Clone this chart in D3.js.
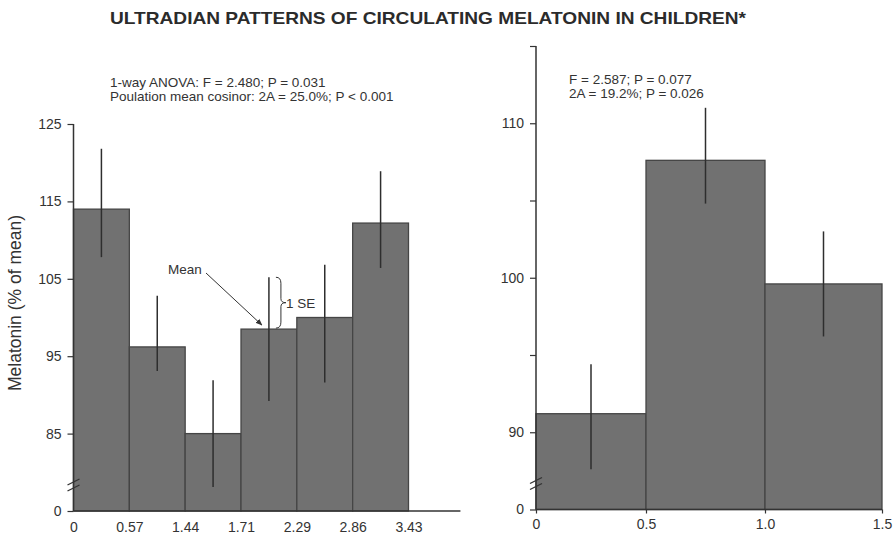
<!DOCTYPE html>
<html>
<head>
<meta charset="utf-8">
<script src="https://cdn.jsdelivr.net/npm/d3@7"></script>
<style>
  html, body { margin: 0; padding: 0; background: #fff; }
  svg { display: block; font-family: "Liberation Sans", Arial, sans-serif; }
</style>
</head>
<body>
<svg id="chart" width="896" height="535"></svg>
<script>
// Left panel: six consecutive intervals
const leftLabels = ["0", "0.57", "1.44", "1.71", "2.29", "2.86", "3.43"];
const leftMean = [114.0, 96.2, 85.0, 98.5, 100.0, 112.2];
const leftHigh = [121.8, 102.8, 91.9, 105.2, 106.8, 118.9];
const leftLow  = [107.8, 93.1, 78.1, 89.2, 91.6, 106.4];
const leftTicks = [75, 85, 95, 105, 115, 125];
const leftTickLabels = ["0", "85", "95", "105", "115", "125"];

// Right panel: three half-unit intervals
const rightEdges = [0, 0.5, 1.0, 1.5];
const rightMean = [91.2, 107.6, 99.6];
const rightHigh = [94.4, 111.0, 103.0];
const rightLow  = [87.6, 104.8, 96.2];
const rightTicks = [85, 90, 95, 100, 105, 110, 115];
const rightTickLabels = ["0", "90", "", "100", "", "110", ""];
const rightXTicks = [0, 0.5, 1.0, 1.5];
const rightXLabels = ["0", "0.5", "1.0", "1.5"];

const titleText = "ULTRADIAN PATTERNS OF CIRCULATING MELATONIN IN CHILDREN*";
const leftNotes = ["1-way ANOVA: F = 2.480; P = 0.031", "Poulation mean cosinor: 2A = 25.0%; P < 0.001"];
const rightNotes = ["F = 2.587; P = 0.077", "2A = 19.2%; P = 0.026"];

const svg = d3.select("#chart");
const ink = "#333";
const barFill = "#717171";
const barStroke = "#454545";
const labelSize = 13.5;
const tickSize = 14;

// Title
svg.append("text")
  .attr("x", 428).attr("y", 24)
  .attr("text-anchor", "middle")
  .attr("font-size", 16.5).attr("font-weight", "bold")
  .attr("fill", "#2b2b2b")
  .attr("textLength", 636).attr("lengthAdjust", "spacingAndGlyphs")
  .text(titleText);

// ---------- Left panel ----------
const xL = d3.scaleLinear().domain([0, 6]).range([73.5, 408.5]);
const yL = d3.scaleLinear().domain([75, 125]).range([511, 124]);
const gL = svg.append("g");

gL.selectAll("rect.bar").data(leftMean).join("rect")
  .attr("class", "bar")
  .attr("x", (d, i) => xL(i))
  .attr("y", d => yL(d))
  .attr("width", (d, i) => xL(i + 1) - xL(i))
  .attr("height", d => yL(75) - yL(d))
  .attr("fill", barFill).attr("stroke", barStroke).attr("stroke-width", 1.3);

gL.selectAll("line.err").data(leftMean).join("line")
  .attr("class", "err")
  .attr("x1", (d, i) => xL(i + 0.5)).attr("x2", (d, i) => xL(i + 0.5))
  .attr("y1", (d, i) => yL(leftHigh[i])).attr("y2", (d, i) => yL(leftLow[i]))
  .attr("stroke", "#2e2e2e").attr("stroke-width", 1.5);

// y axis
const yAxisL = d3.axisLeft(yL).tickValues(leftTicks)
  .tickFormat((d, i) => leftTickLabels[i]).tickSize(6).tickPadding(6);
const gyL = gL.append("g").attr("transform", `translate(${xL(0)},0)`).call(yAxisL);
gyL.select(".domain").attr("d", `M0,${yL(125)}V${yL(75)}`);

// x axis line and labels
const xAxisL = d3.axisBottom(xL).tickValues(d3.range(7))
  .tickFormat((d, i) => leftLabels[i]).tickSize(0).tickPadding(11);
const gxL = gL.append("g").attr("transform", `translate(0,${yL(75)})`).call(xAxisL);
gxL.select(".domain").attr("d", `M${xL(0)},0H${xL(6.93)}`);

// axis break marks
[0, 6].forEach(off => {
  gL.append("line")
    .attr("x1", xL(0) - 6).attr("y1", yL(75) - 20 - off)
    .attr("x2", xL(0) + 6).attr("y2", yL(75) - 26 - off)
    .attr("stroke", ink).attr("stroke-width", 1.3);
});

// y axis title
svg.append("text")
  .attr("transform", "translate(21,303) rotate(-90)")
  .attr("text-anchor", "middle")
  .attr("font-size", 17.5).attr("fill", ink)
  .text("Melatonin (% of mean)");

// statistics notes
leftNotes.forEach((t, i) => {
  svg.append("text").attr("x", 110).attr("y", 87 + i * 13.5)
    .attr("font-size", labelSize).attr("fill", ink).text(t);
});

// Mean / 1 SE annotation on the fourth bar
const iNote = 3;
const noteX = xL(iNote + 0.5);
svg.append("text").attr("x", 168).attr("y", 274)
  .attr("font-size", labelSize).attr("fill", ink).text("Mean");
svg.append("defs").append("marker")
  .attr("id", "arrow").attr("viewBox", "0 0 10 10")
  .attr("refX", 9).attr("refY", 5)
  .attr("markerWidth", 7).attr("markerHeight", 7)
  .attr("orient", "auto")
  .append("path").attr("d", "M0,1L10,5L0,9Z").attr("fill", ink);
svg.append("line")
  .attr("x1", 206).attr("y1", 273)
  .attr("x2", noteX - 7).attr("y2", yL(leftMean[iNote]) - 4)
  .attr("stroke", ink).attr("stroke-width", 1)
  .attr("marker-end", "url(#arrow)");

// curly brace spanning mean to mean + SE
const bTop = yL(leftHigh[iNote]);
const bBot = yL(leftMean[iNote]) - 1;
const bMid = (bTop + bBot) / 2;
const bx = noteX + 7;
svg.append("path")
  .attr("d", `M${bx},${bTop} Q${bx + 5},${bTop} ${bx + 5},${bTop + 6}
              L${bx + 5},${bMid - 4} Q${bx + 5},${bMid} ${bx + 10},${bMid}
              Q${bx + 5},${bMid} ${bx + 5},${bMid + 4}
              L${bx + 5},${bBot - 6} Q${bx + 5},${bBot} ${bx},${bBot}`)
  .attr("fill", "none").attr("stroke", ink).attr("stroke-width", 1);
svg.append("text").attr("x", bx + 10).attr("y", bMid + 5)
  .attr("font-size", labelSize).attr("fill", ink).text("1 SE");

// ---------- Right panel ----------
const xR = d3.scaleLinear().domain(rightXTicks).range([536, 646, 765, 882]);
const yR = d3.scaleLinear().domain([85, 115]).range([509.5, 46]);
const gR = svg.append("g");

gR.selectAll("rect.bar").data(rightMean).join("rect")
  .attr("class", "bar")
  .attr("x", (d, i) => xR(rightEdges[i]))
  .attr("y", d => yR(d))
  .attr("width", (d, i) => xR(rightEdges[i + 1]) - xR(rightEdges[i]))
  .attr("height", d => yR(85) - yR(d))
  .attr("fill", barFill).attr("stroke", barStroke).attr("stroke-width", 1.3);

gR.selectAll("line.err").data(rightMean).join("line")
  .attr("class", "err")
  .attr("x1", (d, i) => xR((rightEdges[i] + rightEdges[i + 1]) / 2))
  .attr("x2", (d, i) => xR((rightEdges[i] + rightEdges[i + 1]) / 2))
  .attr("y1", (d, i) => yR(rightHigh[i])).attr("y2", (d, i) => yR(rightLow[i]))
  .attr("stroke", "#2e2e2e").attr("stroke-width", 1.5);

const yAxisR = d3.axisLeft(yR).tickValues(rightTicks)
  .tickFormat((d, i) => rightTickLabels[i]).tickSize(6).tickPadding(6);
const gyR = gR.append("g").attr("transform", `translate(${xR(0)},0)`).call(yAxisR);
gyR.select(".domain").attr("d", `M0,${yR(115)}V${yR(85)}`);

const xAxisR = d3.axisBottom(xR).tickValues(rightXTicks)
  .tickFormat((d, i) => rightXLabels[i]).tickSize(4).tickPadding(6);
const gxR = gR.append("g").attr("transform", `translate(0,${yR(85)})`).call(xAxisR);
gxR.select(".domain").attr("d", `M${xR(0)},0H${xR(1.5)}`);

[0, 6].forEach(off => {
  gR.append("line")
    .attr("x1", xR(0) - 6).attr("y1", yR(85) - 20 - off)
    .attr("x2", xR(0) + 6).attr("y2", yR(85) - 26 - off)
    .attr("stroke", ink).attr("stroke-width", 1.3);
});

rightNotes.forEach((t, i) => {
  svg.append("text").attr("x", 569).attr("y", 84 + i * 13.5)
    .attr("font-size", labelSize).attr("fill", ink).text(t);
});

// shared axis styling
svg.selectAll(".domain").attr("stroke", ink).attr("stroke-width", 1.5);
svg.selectAll(".tick line").attr("stroke", ink).attr("stroke-width", 1.2);
svg.selectAll(".tick text").attr("font-size", tickSize).attr("fill", ink)
  .attr("font-family", "Liberation Sans, Arial, sans-serif");
</script>
</body>
</html>
